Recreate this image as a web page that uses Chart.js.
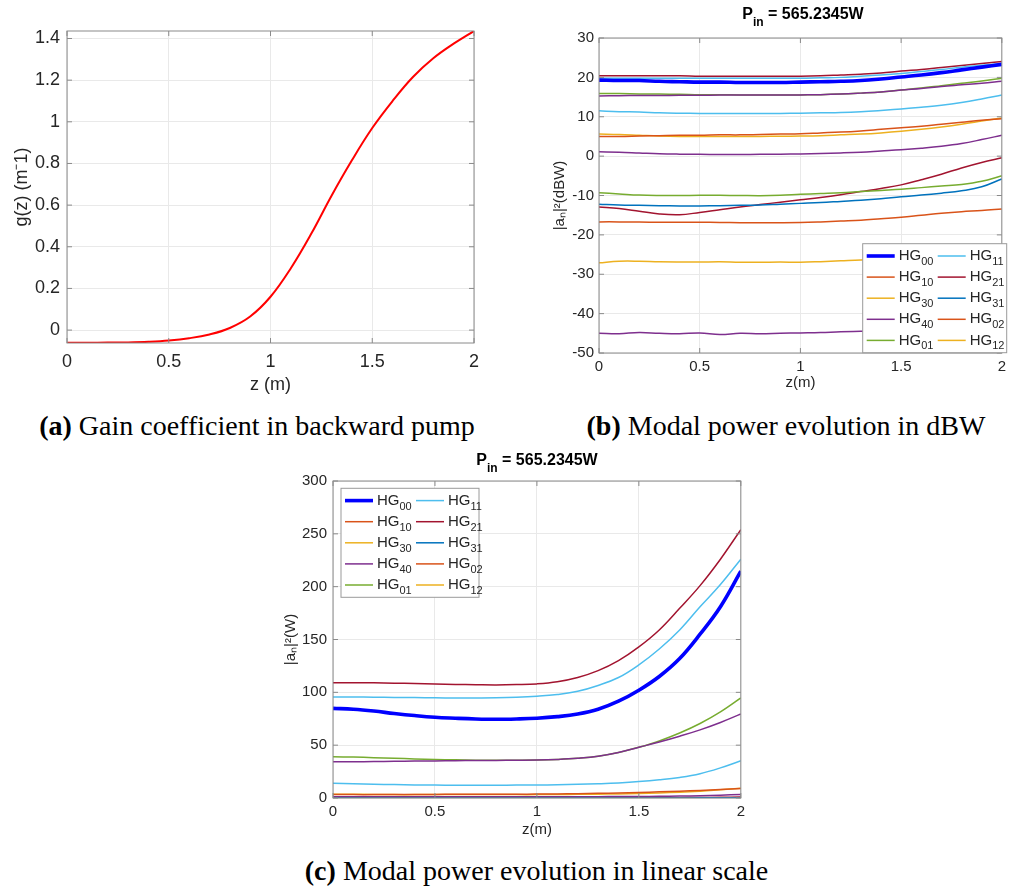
<!DOCTYPE html>
<html>
<head>
<meta charset="utf-8">
<script src="https://cdn.jsdelivr.net/npm/chart.js@4.4.1/dist/chart.umd.min.js"></script>
<style>
  body { margin: 0; background: #fff; width: 1011px; height: 889px; position: relative; overflow: hidden; }
  canvas { position: absolute; }
  .ttl { position: absolute; font: bold 16px 'Liberation Sans', Arial, sans-serif; color: #000; line-height: 20px; text-align: center; white-space: nowrap; }
  .ttl span { font-size: 12px; position: relative; top: 7px; }
  .cap { position: absolute; font: 28px 'Liberation Serif', serif; color: #000; line-height: 32px; text-align: center; white-space: nowrap; }
</style>
</head>
<body>
<canvas id="gainChart" width="500" height="400" style="left:0;top:0"></canvas>
<canvas id="dbwChart" width="471" height="370" style="left:540px;top:24px"></canvas>
<canvas id="linChart" width="480" height="380" style="left:270px;top:466px"></canvas>

<div class="ttl" style="left:603px;width:400px;top:4px">P<span>in</span> = 565.2345W</div>
<div class="ttl" style="left:337px;width:400px;top:450px">P<span>in</span> = 565.2345W</div>

<div class="cap" style="left:0;width:514px;top:410px"><b>(a)</b> Gain coefficient in backward pump</div>
<div class="cap" style="left:561px;width:450px;top:410px"><b>(b)</b> Modal power evolution in dBW</div>
<div class="cap" style="left:236px;width:601px;top:855px"><b>(c)</b> Modal power evolution in linear scale</div>

<script>
// fiber position z (m)
const zPos = [0, 0.1, 0.2, 0.3, 0.4, 0.5, 0.6, 0.7, 0.8, 0.9, 1.0, 1.1, 1.2, 1.3, 1.4, 1.5, 1.6, 1.7, 1.8, 1.9, 2.0];

// (a) gain coefficient g(z), m^-1
const gain = [-0.061, -0.061, -0.060, -0.059, -0.056, -0.050, -0.039, -0.021, 0.01, 0.065, 0.16, 0.297, 0.462, 0.645, 0.815, 0.97, 1.1, 1.215, 1.305, 1.375, 1.436];

// (b) modal power in dBW
const dbw00 = [19.3, 19.2, 19.2, 19.0, 18.9, 18.8, 18.8, 18.7, 18.7, 18.7, 18.8, 18.9, 19.0, 19.2, 19.6, 20.1, 20.6, 21.2, 21.9, 22.6, 23.3];
const dbw10 = [5.0, 5.0, 5.1, 5.2, 5.3, 5.3, 5.4, 5.4, 5.5, 5.6, 5.7, 5.9, 6.1, 6.4, 6.8, 7.2, 7.6, 8.1, 8.6, 9.1, 9.5];
const dbw30 = [5.6, 5.5, 5.3, 5.1, 5.0, 5.0, 5.0, 5.0, 5.0, 5.05, 5.1, 5.2, 5.4, 5.6, 5.9, 6.3, 6.8, 7.4, 8.1, 8.9, 9.7];
const dbw40 = [15.3, 15.35, 15.4, 15.4, 15.45, 15.45, 15.5, 15.5, 15.5, 15.5, 15.55, 15.6, 15.75, 16.0, 16.3, 16.8, 17.2, 17.7, 18.1, 18.5, 19.0];
const dbw01 = [15.9, 15.9, 15.8, 15.75, 15.7, 15.6, 15.6, 15.55, 15.5, 15.5, 15.55, 15.6, 15.75, 16.0, 16.3, 16.8, 17.3, 17.9, 18.5, 19.1, 19.8];
const dbw11 = [19.8, 19.8, 19.8, 19.8, 19.8, 19.8, 19.8, 19.8, 19.8, 19.8, 19.8, 19.9, 20.0, 20.3, 20.6, 21.0, 21.5, 22.0, 22.6, 23.05, 23.5];
const dbw21 = [20.4, 20.4, 20.4, 20.4, 20.4, 20.3, 20.3, 20.3, 20.3, 20.3, 20.3, 20.4, 20.6, 20.8, 21.1, 21.6, 22.0, 22.5, 23.0, 23.5, 24.05];
const dbw31 = [-12.2, -12.4, -12.5, -12.6, -12.65, -12.65, -12.6, -12.5, -12.4, -12.2, -12.0, -11.8, -11.5, -11.2, -10.8, -10.3, -9.9, -9.4, -8.8, -7.8, -5.8];
const dbw02 = [-16.7, -16.7, -16.75, -16.8, -16.8, -16.8, -16.85, -16.9, -16.9, -16.9, -16.85, -16.7, -16.5, -16.3, -15.9, -15.5, -15.0, -14.5, -14.1, -13.8, -13.4];
const dbw12 = [-27.1, -26.7, -26.7, -26.85, -26.9, -26.9, -26.85, -26.95, -26.95, -26.9, -26.95, -26.8, -26.6, -26.4, -26.1, -25.8, -25.4, -24.9, -24.3, -23.6, -23.0];
// higher modes not listed in the legend
const dbwM11 = [1.1, 1.0, 0.8, 0.6, 0.5, 0.45, 0.4, 0.4, 0.45, 0.5, 0.55, 0.65, 0.8, 1.0, 1.3, 1.6, 2.0, 2.5, 3.2, 4.2, 5.3];
const dbwM12 = [-9.3, -9.6, -9.9, -10.0, -10.0, -9.95, -9.95, -10.0, -10.05, -9.95, -9.7, -9.5, -9.3, -9.0, -8.7, -8.4, -8.0, -7.6, -7.2, -6.4, -5.0];
const dbwM13 = [11.5, 11.3, 11.2, 11.0, 10.9, 10.85, 10.8, 10.8, 10.8, 10.85, 10.9, 11.0, 11.1, 11.3, 11.6, 11.95, 12.4, 12.9, 13.6, 14.5, 15.5];
const dbwM14 = [-12.9, -13.3, -14.0, -14.7, -14.9, -14.3, -13.6, -12.9, -12.3, -11.7, -11.1, -10.5, -9.8, -9.0, -8.2, -7.3, -6.0, -4.6, -3.0, -1.6, -0.4];
const dbwM15 = [-45.0, -45.1, -44.8, -45.0, -45.1, -44.9, -45.3, -45.0, -45.1, -45.0, -44.9, -44.8, -44.6, -44.5, -44.4, -44.2, -43.9, -43.5, -42.9, -41.3, -41.8];

// (c) modal power in W
const lin00 = [84.8, 84, 82.3, 80, 78, 76.4, 75.5, 74.8, 74.5, 74.8, 75.5, 77, 79.5, 84, 91.6, 102, 115, 132, 155, 181, 214.6];
const lin10 = [3.2, 3.2, 3.2, 3.3, 3.4, 3.4, 3.5, 3.5, 3.5, 3.6, 3.7, 3.9, 4.1, 4.4, 4.8, 5.2, 5.8, 6.5, 7.2, 8.1, 8.9];
const lin30 = [3.6, 3.5, 3.4, 3.2, 3.2, 3.2, 3.2, 3.2, 3.2, 3.2, 3.2, 3.3, 3.5, 3.6, 3.9, 4.3, 4.8, 5.5, 6.5, 7.8, 9.3];
const lin40 = [34.2, 34.3, 34.5, 34.7, 34.9, 35.1, 35.3, 35.5, 35.6, 35.7, 35.9, 36.5, 37.6, 39.5, 43, 48, 53, 58.5, 64.5, 71.5, 79.5];
const lin01 = [39.1, 38.7, 38.2, 37.6, 37, 36.5, 36.1, 35.8, 35.7, 35.7, 35.9, 36.5, 37.6, 39.5, 43, 48, 54, 61.5, 70.5, 81.5, 94.7];
const lin11 = [95.7, 95.6, 95.4, 95.2, 95, 94.8, 94.7, 94.7, 94.8, 95.3, 96.3, 98, 101, 106.5, 114, 126, 141, 159, 181, 202, 226];
const lin21 = [109, 109, 109, 108.7, 108.3, 108, 107.5, 107.2, 107, 107.3, 108, 110, 114, 120.5, 130, 143, 159, 179.5, 201, 226, 254];
const lin31 = [0.06, 0.06, 0.06, 0.05, 0.05, 0.05, 0.05, 0.06, 0.06, 0.06, 0.06, 0.07, 0.07, 0.08, 0.08, 0.09, 0.1, 0.11, 0.13, 0.17, 0.26];
const lin02 = [0.02, 0.02, 0.02, 0.02, 0.02, 0.02, 0.02, 0.02, 0.02, 0.02, 0.02, 0.02, 0.02, 0.02, 0.03, 0.03, 0.03, 0.04, 0.04, 0.04, 0.05];
const lin12 = [0, 0, 0, 0, 0, 0, 0, 0, 0, 0, 0, 0, 0, 0, 0, 0, 0, 0, 0, 0, 0.01];
const linM11 = [1.3, 1.26, 1.2, 1.15, 1.12, 1.11, 1.1, 1.1, 1.11, 1.12, 1.13, 1.16, 1.2, 1.26, 1.35, 1.45, 1.6, 1.8, 2.1, 2.6, 3.4];
const linM12 = [0.12, 0.11, 0.1, 0.1, 0.1, 0.1, 0.1, 0.1, 0.1, 0.1, 0.11, 0.11, 0.12, 0.13, 0.13, 0.14, 0.16, 0.17, 0.19, 0.23, 0.32];
const linM13 = [14, 13.6, 13.1, 12.7, 12.4, 12.2, 12.1, 12.1, 12.1, 12.2, 12.3, 12.5, 12.9, 13.5, 14.3, 15.5, 17.2, 19.5, 23, 28.5, 35.2];
const linM14 = [0.05, 0.05, 0.04, 0.03, 0.03, 0.04, 0.04, 0.05, 0.06, 0.07, 0.08, 0.09, 0.1, 0.13, 0.15, 0.19, 0.25, 0.35, 0.5, 0.69, 0.91];
const linM15 = [0, 0, 0, 0, 0, 0, 0, 0, 0, 0, 0, 0, 0, 0, 0, 0, 0, 0, 0, 0, 0];

// mode names shown in the legend (column by column), then unlisted ones
const modeNames = ['00', '10', '30', '40', '01', '11', '21', '31', '02', '12', '', '', '', '', ''];
// matlab default line colours
const modeColors = ['#0000ff', '#d95319', '#edb120', '#7e2f8e', '#77ac30', '#4dbeee', '#a2142f', '#0072bd', '#d95319', '#edb120',
                    '#7e2f8e', '#77ac30', '#4dbeee', '#a2142f', '#7e2f8e'];

const dbwSeries = [dbw00, dbw10, dbw30, dbw40, dbw01, dbw11, dbw21, dbw31, dbw02, dbw12, dbwM11, dbwM12, dbwM13, dbwM14, dbwM15];
const linSeries = [lin00, lin10, lin30, lin40, lin01, lin11, lin21, lin31, lin02, lin12, linM11, linM12, linM13, linM14, linM15];

const FONT = "'Liberation Sans', Arial, sans-serif";
const TXT = '#262626';
const GRID = '#e9e9e9';

const toPoints = vals => vals.map((v, i) => ({ x: zPos[i], y: v }));
const fmt = v => String(Math.round(v * 10) / 10);

const modeDatasets = series => series.map((vals, i) => ({
    label: modeNames[i],
    data: toPoints(vals),
    borderColor: modeColors[i],
    borderWidth: i === 0 ? 3.6 : 1.5,
    pointRadius: 0,
    tension: 0.4,
    fill: false
}));

// box round the axes with small inward ticks, like matlab
const boxPlugin = {
    id: 'matlabBox',
    afterDatasetsDraw(chart) {
        const { ctx, chartArea: a, scales } = chart;
        ctx.save();
        ctx.strokeStyle = '#8a8a8a';
        ctx.lineWidth = 1;
        ctx.strokeRect(a.left, a.top, a.right - a.left, a.bottom - a.top);
        const len = 5;
        ctx.beginPath();
        scales.x.ticks.forEach(t => {
            const px = scales.x.getPixelForValue(t.value);
            ctx.moveTo(px, a.bottom); ctx.lineTo(px, a.bottom - len);
            ctx.moveTo(px, a.top); ctx.lineTo(px, a.top + len);
        });
        scales.y.ticks.forEach(t => {
            const py = scales.y.getPixelForValue(t.value);
            ctx.moveTo(a.left, py); ctx.lineTo(a.left + len, py);
            ctx.moveTo(a.right, py); ctx.lineTo(a.right - len, py);
        });
        ctx.stroke();
        ctx.restore();
    }
};

// two-column legend with HG subscripts
const hgLegend = {
    id: 'hgLegend',
    afterDatasetsDraw(chart, args, opts) {
        if (!opts.show) return;
        const { ctx, chartArea: a } = chart;
        const bx = a.left + opts.left, by = a.top + opts.top;
        ctx.save();
        ctx.fillStyle = '#fff';
        ctx.fillRect(bx, by, opts.width, opts.height);
        ctx.strokeStyle = '#9a9a9a';
        ctx.lineWidth = 1;
        ctx.strokeRect(bx, by, opts.width, opts.height);
        const items = chart.data.datasets.filter(d => d.label);
        items.forEach((d, i) => {
            const col = Math.floor(i / 5), row = i % 5;
            const y = by + 12.3 + row * 21.1;
            const x = bx + 4 + col * 71;
            ctx.strokeStyle = d.borderColor;
            ctx.lineWidth = d.borderWidth;
            ctx.beginPath();
            ctx.moveTo(x, y); ctx.lineTo(x + 28, y);
            ctx.stroke();
            ctx.fillStyle = TXT;
            ctx.textBaseline = 'middle';
            ctx.font = '15px ' + FONT;
            ctx.fillText('HG', x + 32, y);
            const w = ctx.measureText('HG').width;
            ctx.font = '11px ' + FONT;
            ctx.fillText(d.label, x + 32 + w, y + 6);
        });
        ctx.restore();
    }
};

const axisX = (fontSize, tickPad, height, titleText, titlePad) => ({
    type: 'linear', min: 0, max: 2,
    afterFit: s => { s.height = height; },
    grid: { color: GRID, drawTicks: false },
    border: { display: false },
    ticks: { stepSize: 0.5, padding: tickPad, color: TXT, font: { family: FONT, size: fontSize }, maxRotation: 0, callback: fmt },
    title: { display: true, text: titleText, color: TXT, font: { family: FONT, size: fontSize }, padding: { top: 0, bottom: titlePad } }
});

const axisY = (fontSize, min, max, step, width, tickPad, titleText, titlePad) => ({
    type: 'linear', min: min, max: max,
    afterFit: s => { s.width = width; },
    grid: { color: GRID, drawTicks: false },
    border: { display: false },
    ticks: { stepSize: step, includeBounds: false, padding: tickPad, color: TXT, font: { family: FONT, size: fontSize }, callback: fmt },
    title: { display: true, text: titleText, color: TXT, font: { family: FONT, size: fontSize }, padding: { top: titlePad, bottom: 0 } }
});

// (a) gain coefficient
new Chart(document.getElementById('gainChart'), {
    type: 'line',
    data: {
        datasets: [{
            data: toPoints(gain),
            borderColor: '#ff0000',
            borderWidth: 2,
            pointRadius: 0,
            tension: 0.4
        }]
    },
    options: {
        responsive: false, animation: false,
        layout: { padding: { left: 0, top: 31, right: 26, bottom: 0 } },
        plugins: { legend: { display: false }, tooltip: { enabled: false } },
        scales: {
            x: axisX(18, 8, 57, 'z (m)', 4),
            y: axisY(18, -0.062, 1.436, 0.2, 67, 7, 'g(z) (m\u207B1)', 11)
        }
    },
    plugins: [boxPlugin]
});

// (b) modal power, dBW
new Chart(document.getElementById('dbwChart'), {
    type: 'line',
    data: { datasets: modeDatasets(dbwSeries) },
    options: {
        responsive: false, animation: false,
        layout: { padding: { left: 0, top: 7, right: 4, bottom: 0 } },
        plugins: {
            legend: { display: false }, tooltip: { enabled: false },
            hgLegend: { show: true, left: 263.7, top: 205.7, width: 144, height: 109 }
        },
        scales: {
            x: axisX(15, 5, 41, 'z(m)', 2),
            y: axisY(15, -50, 30, 10, 59, 5, '|a\u2099|\u00B2(dBW)', 11)
        }
    },
    plugins: [boxPlugin, hgLegend]
});

// (c) modal power, linear
new Chart(document.getElementById('linChart'), {
    type: 'line',
    data: { datasets: modeDatasets(linSeries) },
    options: {
        responsive: false, animation: false,
        layout: { padding: { left: 0, top: 10, right: 8, bottom: 0 } },
        plugins: {
            legend: { display: false }, tooltip: { enabled: false },
            hgLegend: { show: true, left: 8, top: 7.3, width: 138, height: 109 }
        },
        scales: {
            x: axisX(15, 5, 48, 'z(m)', 7),
            y: axisY(15, 0, 300, 50, 63, 6, '|a\u2099|\u00B2(W)', 12)
        }
    },
    plugins: [boxPlugin, hgLegend]
});
</script>
</body>
</html>
